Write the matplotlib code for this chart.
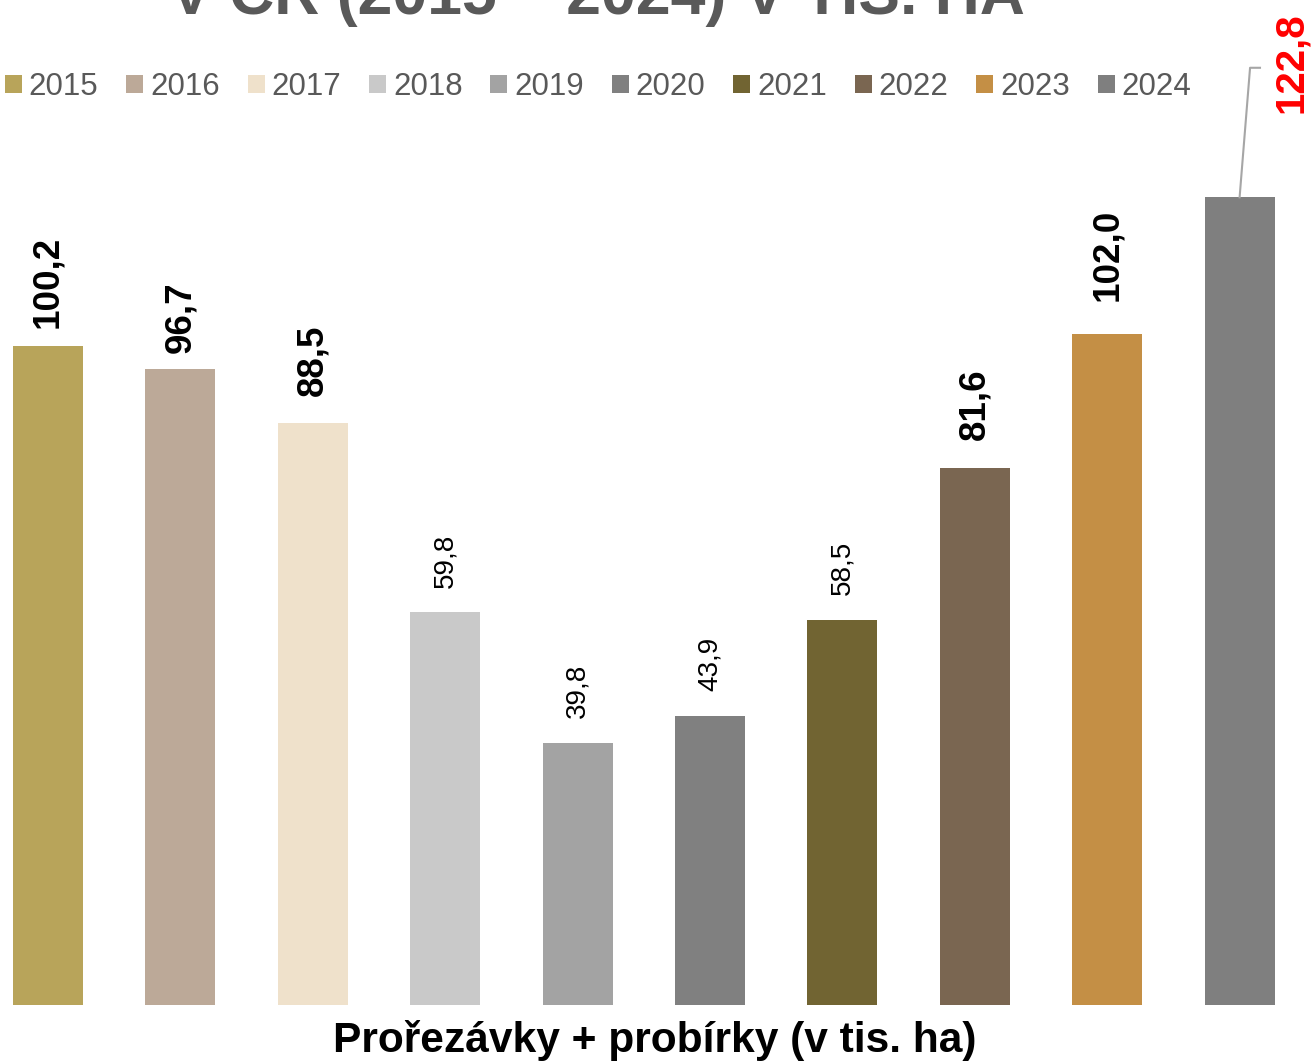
import matplotlib
matplotlib.use("Agg")
import matplotlib.pyplot as plt
from matplotlib.patches import Patch

plt.rcParams['font.family'] = ['Liberation Sans', 'DejaVu Sans']

years = ["2015", "2016", "2017", "2018", "2019", "2020", "2021", "2022", "2023", "2024"]
values = [100.2, 96.7, 88.5, 59.8, 39.8, 43.9, 58.5, 81.6, 102.0, 122.8]
colors = ["#B8A45A", "#BCA998", "#EFE1CB", "#C9C9C9", "#A3A3A3",
          "#808080", "#716432", "#7A6651", "#C48F45", "#7F7F7F"]
bold_labels = [True, True, True, False, False, False, False, True, True, True]
# label gap above bar (pixels), as placed in the original
label_gap_px = [18, 16, 27, 24, 25, 25, 25, 28, 33]
title_text = "V ČR (2015 – 2024) V TIS. HA"
xlabel_text = "Prořezávky + probírky (v tis. ha)"

W, H = 1311, 1061
PX_PER_UNIT = 6.577
fig = plt.figure(figsize=(W / 100, H / 100), dpi=100)
ax = fig.add_axes([0, 56 / H, 1, 1005 / H])
ax.set_xlim(-48 / 132.4, (W - 48) / 132.4)
ax.set_ylim(0, 1005 / PX_PER_UNIT)
ax.axis('off')

x = list(range(len(years)))
ax.bar(x, values, width=0.529, color=colors, zorder=2)

def fmt(v):
    return f"{v:.1f}".replace(".", ",")

for i, (v, b, g) in enumerate(zip(values[:-1], bold_labels[:-1], label_gap_px)):
    if b:
        ax.text(i, v + g / PX_PER_UNIT, fmt(v), rotation=90, ha='center', va='bottom',
                fontsize=26.5, fontweight='bold', color='black')
    else:
        ax.text(i, v + g / PX_PER_UNIT, fmt(v), rotation=90, ha='center', va='bottom',
                fontsize=20, color='black')

# last value: red label with leader line
i_last = len(values) - 1
v_last = values[-1]
ax.plot([i_last, i_last + 0.079, i_last + 0.154],
        [v_last, v_last + 19.7, v_last + 19.7],
        color='#A6A6A6', lw=1.5, zorder=3, clip_on=False)
ax.text(i_last + 0.388, v_last + 12.8, fmt(v_last), rotation=90, ha='center', va='bottom',
        fontsize=29, fontweight='bold', color='#FF0000')

# title (top cropped in the reference)
fig.text(597 / W, 1 - 14 / H, title_text, ha='center', va='baseline',
         fontsize=45, fontweight='bold', color='#595959')

# legend
handles = [Patch(facecolor=c, edgecolor='none', label=y) for c, y in zip(colors, years)]
fig.legend(handles=handles, loc='center left', bbox_to_anchor=(5 / W, 1 - 87 / H),
           ncol=10, frameon=False, fontsize=22.5, handlelength=0.544, handleheight=0.544,
           handletextpad=0.22, columnspacing=0.89, borderpad=0, borderaxespad=0,
           labelcolor='#595959')

fig.text(655 / W, 1 - 1052 / H, xlabel_text, ha='center', va='baseline',
         fontsize=30.6, fontweight='bold', color='black')

fig.savefig("out.png", dpi=100)
